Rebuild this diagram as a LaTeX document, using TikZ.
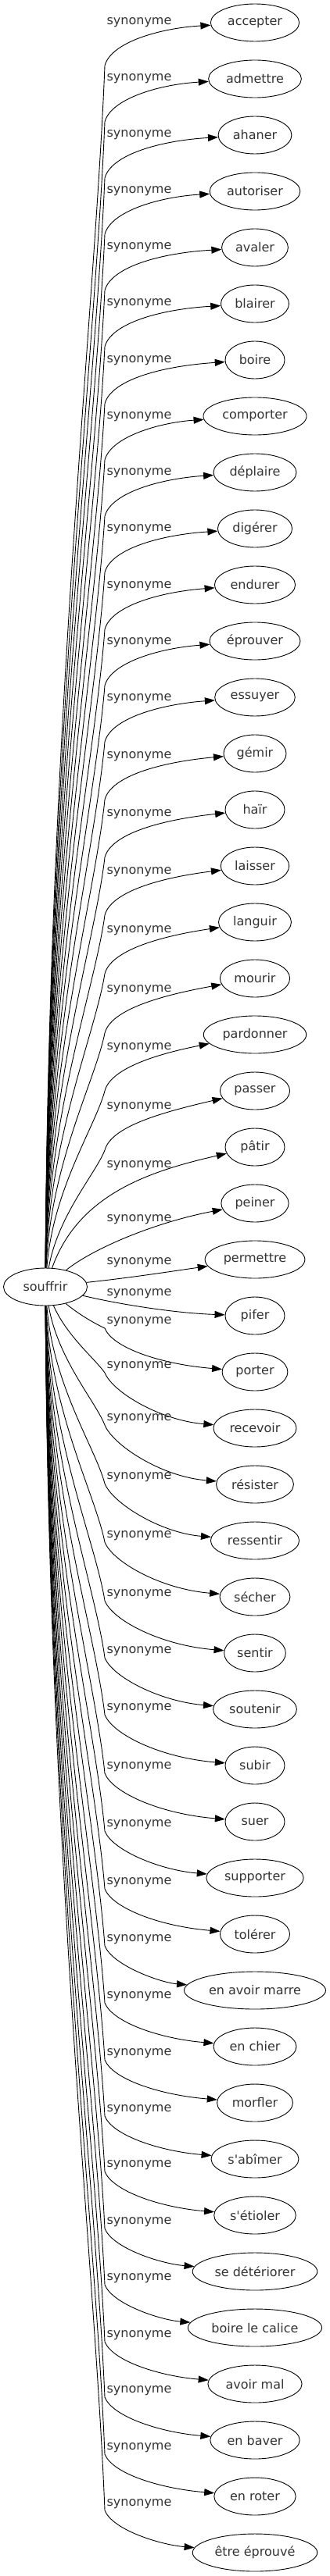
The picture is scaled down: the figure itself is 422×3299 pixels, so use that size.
\documentclass[tikz,border=0pt]{standalone}
\usepackage{fontspec}
\setmainfont{DejaVu Sans}
\usetikzlibrary{arrows.meta,shapes.geometric}

\definecolor{wordgray}{HTML}{333333}

\tikzset{
  word/.style={draw, ellipse, line width=0.9pt, minimum height=48pt, minimum width=76pt,
    inner xsep=5pt, text=wordgray, font=\fontsize{16}{19}\selectfont},
  rel/.style={inner sep=0pt, text=wordgray, font=\fontsize{16}{19}\selectfont},
  link/.style={-{Triangle[length=13pt,width=9pt]}, line width=0.9pt},
}

\begin{document}
\begin{tikzpicture}[x=1pt, y=-1pt]
  \useasboundingbox (0,0) rectangle (422,3299);

  % source word
  \node[word, minimum width=107pt] (souffrir) at (58,1648) {souffrir};

  % targets: index / word / label height / kind (1 above, 2 below, 0 near)
  \foreach \i/\txt/\yl/\kind in {
      0/accepter/29/1, 1/admettre/101/1, 2/ahaner/173/1, 3/autoriser/245/1,
      4/avaler/317/1, 5/blairer/389/1, 6/boire/462/1, 7/comporter/534/1,
      8/déplaire/606/1, 9/digérer/678/1, 10/endurer/751/1, 11/éprouver/823/1,
      12/essuyer/895/1, 13/gémir/969/1, 14/haïr/1043/1, 15/laisser/1117/1,
      16/languir/1192/1, 17/mourir/1268/1, 18/pardonner/1342/1, 19/passer/1418/1,
      20/pâtir/1493/0, 21/peiner/1562/0, 22/permettre/1617/0, 23/pifer/1657/0,
      24/porter/1693/2, 25/recevoir/1750/2, 26/résister/1817/2, 27/ressentir/1892/2,
      28/sécher/1967/2, 29/sentir/2042/2, 30/soutenir/2115/2, 31/subir/2188/2,
      32/suer/2263/2, 33/supporter/2337/2, 34/tolérer/2411/2, 35/en avoir marre/2484/2,
      36/en chier/2557/2, 37/morfler/2630/2, 38/s\textquotesingle abîmer/2702/2,
      39/s\textquotesingle étioler/2773/2, 40/se détériorer/2846/2,
      41/boire le calice/2918/2, 42/avoir mal/2991/2, 43/en baver/3062/2,
      44/en roter/3135/2, 45/être éprouvé/3207/2} {
    \pgfmathsetmacro{\yt}{29+72*\i}
    \node[word] (syn\i) at (326,\yt) {\txt};
    \node[rel] (lab\i) at (178,\yl) {synonyme};
    \ifnum\kind=1
      % rises along the bundle, bends under the label
      \pgfmathsetmacro{\yb}{\yl+55}
      \pgfmathsetmacro{\dd}{1625-\yb}
      \pgfmathsetmacro{\cax}{62+55*exp(-\dd/100)}
      \pgfmathsetmacro{\cay}{1625-0.45*\dd}
      \pgfmathsetmacro{\cby}{\yb+0.2*\dd}
      \draw[link] (souffrir) .. controls (\cax,\cay) and (122,\cby) .. (134,\yb)
        .. controls (142,\yl+25) and (205,\yl+7) .. (syn\i);
    \fi
    \ifnum\kind=2
      % drops along the bundle, bends under the label
      \pgfmathsetmacro{\yb}{\yl+8}
      \pgfmathsetmacro{\dd}{\yb-1672}
      \pgfmathsetmacro{\cax}{62+55*exp(-\dd/100)}
      \pgfmathsetmacro{\cay}{1672+0.45*\dd}
      \pgfmathsetmacro{\cby}{\yb-0.2*\dd}
      \draw[link] (souffrir) .. controls (\cax,\cay) and (122,\cby) .. (134,\yb)
        .. controls (144,\yl+33) and (205,\yt-10) .. (syn\i);
    \fi
  }

  % the four nearly level ones
  \draw[link] (souffrir) .. controls (100,1530) and (190,1500) .. (syn20);
  \draw[link] (souffrir) .. controls (120,1598) and (200,1565) .. (syn21);
  \draw[link] (souffrir) .. controls (170,1636) and (220,1628) .. (syn22);
  \draw[link] (souffrir) .. controls (160,1672) and (230,1682) .. (syn23);
\end{tikzpicture}
\end{document}
